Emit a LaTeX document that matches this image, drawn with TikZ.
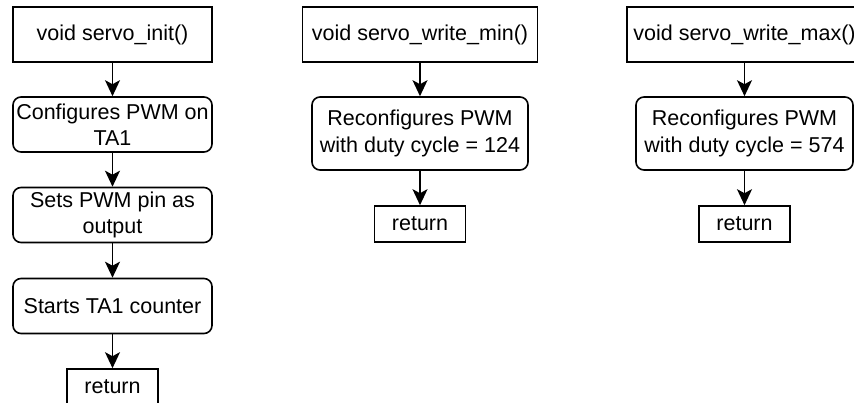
\documentclass[tikz,border=0pt]{standalone}
\usepackage{fontspec}
\setmainfont{Liberation Sans}
\usetikzlibrary{arrows.meta}

\begin{document}
\begin{tikzpicture}
[
	              x = 1pt,
	              y = -1pt,
	     line width = 1.6pt,
	    flow/.style = { -{Stealth[length=16pt,width=15pt,inset=4pt]} },
	   block/.style = { draw=black, rectangle, inner sep=0pt, align=center,
	                    font=\fontsize{21.5}{26.5}\selectfont },
	    head/.style = { block, minimum height=55pt },
	    task/.style = { block, rounded corners=8pt },
	     ret/.style = { block, minimum width=91pt, minimum height=36pt }
]
	\useasboundingbox (0,0) rectangle (854,402);

	% servo_init
	\node (11) at (112.5,34.5)  [head, minimum width=199pt]   {void servo\_init()};
	\node (12) at (112.5,124.5) [task, minimum width=199pt, minimum height=55pt] {Configures PWM on\\TA1};
	\node (13) at (112.5,215)   [task, minimum width=199pt, minimum height=55pt] {Sets PWM pin as\\output};
	\node (14) at (112.5,306)   [task, minimum width=199pt, minimum height=55pt] {Starts TA1 counter};
	\node (15) at (112.5,387)   [ret]    {return};
	\draw [flow] (11) edge (12) (12) edge (13) (13) edge (14) (14) edge (15);

	% servo_write_min
	\node (21) at (420,34.5)    [head, minimum width=235pt]   {void servo\_write\_min()};
	\node (22) at (420,133.5)   [task, minimum width=216pt, minimum height=73pt] {Reconfigures PWM\\with duty cycle = 124};
	\node (23) at (420,224)     [ret]    {return};
	\draw [flow] (21) edge (22) (22) edge (23);

	% servo_write_max
	\node (31) at (744.5,34.5)  [head, minimum width=235pt]   {void servo\_write\_max()};
	\node (32) at (744.5,133.5) [task, minimum width=217pt, minimum height=73pt] {Reconfigures PWM\\with duty cycle = 574};
	\node (33) at (744.5,224)   [ret]    {return};
	\draw [flow] (31) edge (32) (32) edge (33);

\end{tikzpicture}
\end{document}
